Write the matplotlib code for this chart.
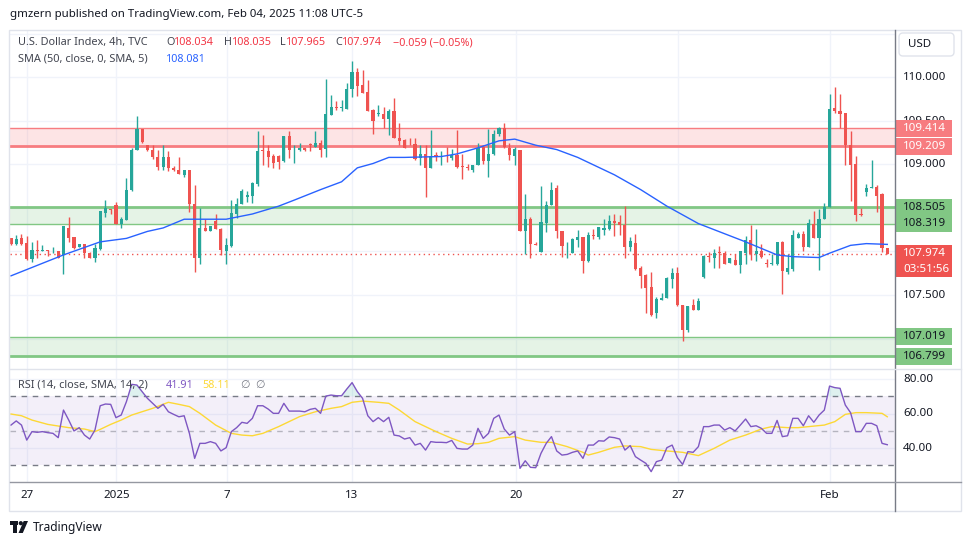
import matplotlib
matplotlib.use("Agg")
import matplotlib.pyplot as plt
import matplotlib.patches as mpatches
from matplotlib.transforms import blended_transform_factory
import numpy as np

W, H = 970, 545
plt.rcParams['font.family'] = ['Noto Sans', 'DejaVu Sans']

# 4h candles, U.S. Dollar Index (TVC), late Dec 2024 -> Feb 04 2025
opens = [108.15, 108.08, 108.15, 108.10, 107.91, 108.02, 108.01, 108.02, 108.00, 108.01,
         107.96, 108.27, 108.17, 108.05, 108.09, 107.98, 107.93, 108.03, 108.44, 108.49,
         108.53, 108.32, 108.36, 108.70, 109.17, 109.41, 109.22, 109.17, 109.08, 108.97,
         109.09, 108.96, 108.93, 108.88, 108.93, 108.55, 107.93, 108.27, 108.24, 108.35,
         108.26, 108.01, 108.06, 108.43, 108.55, 108.62, 108.64, 108.78, 109.16, 109.15,
         109.10, 109.10, 109.04, 109.32, 109.16, 109.17, 109.19, 109.23, 109.20, 109.24,
         109.18, 109.57, 109.66, 109.65, 109.64, 109.86, 110.06, 109.91, 109.83, 109.63,
         109.58, 109.58, 109.52, 109.61, 109.30, 109.28, 109.25, 109.23, 109.07, 109.12,
         108.96, 109.11, 109.08, 109.09, 109.07, 109.11, 108.98, 108.97, 108.93, 108.99,
         109.20, 109.04, 109.12, 109.35, 109.42, 109.19, 109.10, 109.17, 108.24, 108.37,
         108.09, 107.99, 108.33, 108.53, 108.73, 108.24, 108.08, 107.98, 108.13, 108.17,
         107.89, 108.19, 108.17, 108.25, 108.26, 108.35, 108.34, 108.30, 108.05, 108.10,
         107.81, 107.73, 107.59, 107.29, 107.44, 107.47, 107.68, 107.75, 107.39, 107.10,
         107.39, 107.33, 107.71, 107.95, 107.93, 107.99, 107.98, 107.87, 107.90, 107.84,
         107.98, 108.13, 107.97, 108.00, 107.865, 107.857, 107.86, 108.11, 107.76, 107.80,
         108.16, 108.20, 108.05, 108.32, 108.16, 108.37, 108.51, 109.65, 109.61, 109.59,
         109.22, 109.00, 108.43, 108.68, 108.73, 108.74, 108.66, 108.034]
highs = [108.16, 108.19, 108.20, 108.18, 108.11, 108.13, 108.07, 108.02, 108.05, 108.01,
         108.29, 108.39, 108.17, 108.09, 108.09, 107.99, 108.09, 108.47, 108.59, 108.49,
         108.57, 108.39, 108.84, 109.19, 109.55, 109.41, 109.22, 109.22, 109.17, 109.22,
         109.15, 108.98, 109.08, 108.93, 108.94, 108.76, 108.50, 108.37, 108.29, 108.43,
         108.27, 108.16, 108.59, 108.61, 108.72, 108.69, 108.80, 109.38, 109.34, 109.22,
         109.12, 109.11, 109.33, 109.38, 109.22, 109.24, 109.19, 109.25, 109.38, 109.28,
         109.98, 109.80, 109.73, 109.74, 109.93, 110.19, 110.11, 110.08, 109.97, 109.64,
         109.68, 109.66, 109.64, 109.76, 109.47, 109.29, 109.30, 109.30, 109.22, 109.22,
         109.40, 109.14, 109.15, 109.20, 109.18, 109.40, 109.12, 109.00, 108.99, 109.25,
         109.22, 109.41, 109.40, 109.43, 109.47, 109.24, 109.20, 109.17, 108.66, 108.39,
         108.11, 108.75, 108.58, 108.80, 108.76, 108.24, 108.11, 108.16, 108.25, 108.17,
         108.22, 108.26, 108.28, 108.37, 108.42, 108.43, 108.42, 108.52, 108.17, 108.20,
         107.83, 107.74, 107.76, 107.48, 107.52, 107.71, 107.81, 107.82, 107.39, 107.37,
         107.45, 107.46, 107.96, 107.99, 108.03, 108.06, 108.00, 107.92, 107.97, 108.01,
         108.18, 108.30, 108.26, 108.09, 107.91, 107.97, 108.11, 108.12, 107.97, 108.25,
         108.22, 108.24, 108.37, 108.46, 108.49, 108.56, 109.81, 109.89, 109.81, 109.59,
         109.38, 109.10, 108.50, 108.77, 109.05, 108.76, 108.67, 108.035]
lows = [108.07, 108.07, 108.07, 107.90, 107.88, 107.93, 108.00, 107.95, 107.98, 107.92,
        107.74, 108.11, 108.03, 108.05, 107.93, 107.92, 107.88, 108.02, 108.40, 108.43,
        108.32, 108.27, 108.36, 108.69, 109.17, 109.25, 109.15, 109.06, 108.94, 108.94,
        108.92, 108.92, 108.89, 108.85, 108.45, 107.76, 107.86, 108.23, 108.24, 108.26,
        107.96, 107.86, 108.05, 108.38, 108.55, 108.57, 108.56, 108.75, 108.99, 108.97,
        108.96, 108.95, 109.03, 109.07, 109.01, 109.15, 109.15, 109.15, 109.20, 109.09,
        109.09, 109.57, 109.62, 109.61, 109.64, 109.77, 109.79, 109.82, 109.61, 109.35,
        109.55, 109.42, 109.34, 109.30, 109.22, 109.19, 109.22, 109.05, 108.99, 108.62,
        108.96, 109.04, 108.99, 109.03, 109.05, 108.96, 108.83, 108.94, 108.91, 108.99,
        109.00, 108.85, 109.11, 109.32, 109.19, 109.05, 108.99, 108.24, 107.97, 107.93,
        108.07, 107.99, 108.22, 108.53, 108.15, 107.94, 107.93, 107.98, 108.05, 107.75,
        107.88, 108.14, 108.14, 108.19, 108.25, 108.18, 108.19, 107.93, 108.01, 107.79,
        107.58, 107.29, 107.26, 107.23, 107.44, 107.47, 107.58, 107.37, 106.97, 107.07,
        107.33, 107.33, 107.70, 107.88, 107.81, 107.81, 107.86, 107.87, 107.84, 107.75,
        107.86, 107.90, 107.89, 107.93, 107.82, 107.85, 107.85, 107.51, 107.74, 107.77,
        108.16, 108.00, 108.05, 108.15, 107.79, 108.37, 108.51, 109.59, 109.42, 108.99,
        108.58, 108.35, 108.41, 108.64, 108.73, 108.45, 107.99, 107.965]
closes = [108.08, 108.14, 108.08, 107.91, 108.02, 108.00, 108.02, 108.00, 108.01, 107.93,
          108.29, 108.16, 108.04, 108.09, 107.98, 107.93, 108.04, 108.46, 108.50, 108.48,
          108.32, 108.37, 108.71, 109.17, 109.41, 109.26, 109.17, 109.08, 108.97, 109.09,
          108.96, 108.93, 108.89, 108.93, 108.55, 107.93, 108.27, 108.24, 108.29, 108.26,
          108.02, 108.07, 108.44, 108.55, 108.69, 108.65, 108.79, 109.15, 109.15, 109.09,
          109.01, 109.03, 109.32, 109.17, 109.17, 109.19, 109.17, 109.22, 109.24, 109.17,
          109.58, 109.66, 109.65, 109.66, 109.87, 110.06, 109.90, 109.82, 109.61, 109.50,
          109.59, 109.52, 109.61, 109.30, 109.27, 109.19, 109.24, 109.06, 109.12, 108.96,
          109.10, 109.08, 109.10, 109.08, 109.11, 108.97, 108.97, 108.96, 108.99, 109.19,
          109.04, 109.12, 109.35, 109.42, 109.20, 109.11, 109.18, 108.24, 108.37, 108.08,
          108.07, 108.34, 108.53, 108.71, 108.23, 108.06, 108.09, 108.14, 108.17, 107.89,
          108.19, 108.18, 108.28, 108.27, 108.35, 108.33, 108.30, 108.05, 108.12, 107.80,
          107.72, 107.58, 107.27, 107.45, 107.47, 107.70, 107.75, 107.39, 107.10, 107.37,
          107.33, 107.43, 107.95, 107.94, 107.98, 107.98, 107.86, 107.92, 107.84, 108.00,
          108.13, 107.97, 108.01, 107.94, 107.857, 107.865, 108.11, 107.77, 107.81, 108.19,
          108.20, 108.05, 108.33, 108.16, 108.37, 108.51, 109.64, 109.61, 109.58, 109.22,
          108.99, 108.42, 108.42, 108.73, 108.74, 108.64, 108.04, 107.974]

# SMA(50) at a set of bars
sma_bar = [0, 10, 17, 22, 26, 29, 33, 37, 41, 46, 51, 54, 59, 63, 66, 69, 72, 75, 82, 85,
           89, 93, 96, 100, 104, 108, 115, 120, 125, 131, 137, 140, 146, 149, 154, 156, 160, 163, 167]
sma_val = [107.72, 107.96, 108.11, 108.15, 108.23, 108.27, 108.37, 108.37, 108.37, 108.43,
           108.52, 108.59, 108.71, 108.80, 108.96, 109.01, 109.08, 109.08, 109.09, 109.12,
           109.19, 109.27, 109.29, 109.22, 109.17, 109.08, 108.88, 108.71, 108.52, 108.32,
           108.18, 108.11, 107.96, 107.94, 107.93, 107.98, 108.07, 108.09, 108.081]

rsi = [53.3, 55.7, 53.3, 44.6, 49.5, 49.1, 49.5, 48.9, 48.5, 46.0,
       62.0, 56.2, 49.9, 51.8, 47.5, 45.2, 50.4, 64.5, 65.5, 65.3,
       57.6, 59.1, 66.9, 76.9, 76.5, 72.7, 68.8, 65.9, 63.0, 65.3,
       61.0, 59.5, 58.1, 58.7, 48.5, 34.0, 42.7, 42.7, 43.7, 42.7,
       38.3, 40.2, 49.5, 51.8, 54.9, 54.3, 57.2, 64.5, 64.5, 62.6,
       60.1, 60.1, 65.9, 61.4, 61.4, 61.4, 61.0, 62.4, 63.0, 60.1,
       70.1, 70.7, 70.3, 70.3, 74.2, 77.9, 72.7, 68.8, 58.7, 55.3,
       57.6, 55.3, 57.8, 47.5, 47.0, 45.2, 46.0, 41.7, 42.7, 38.8,
       43.7, 43.3, 43.3, 43.1, 44.4, 39.8, 39.4, 39.4, 41.7, 51.4,
       45.6, 48.5, 57.2, 59.1, 51.0, 47.5, 49.5, 28.2, 32.6, 28.8,
       28.6, 36.9, 42.7, 46.6, 38.3, 35.9, 36.3, 37.5, 38.3, 34.0,
       41.7, 41.7, 44.2, 44.0, 46.4, 46.0, 45.2, 38.8, 41.4, 35.0,
       33.0, 31.1, 26.3, 32.1, 33.0, 40.2, 41.7, 34.4, 30.5, 37.9,
       37.5, 40.8, 52.4, 52.4, 53.3, 53.3, 50.4, 51.8, 49.9, 53.3,
       56.8, 52.4, 52.9, 51.4, 48.5, 48.5, 56.0, 46.6, 47.1, 57.2,
       57.2, 52.9, 58.7, 54.9, 59.1, 62.0, 75.9, 75.0, 74.6, 64.9,
       60.5, 49.5, 49.5, 54.3, 54.3, 52.9, 42.7, 41.91]

ma_bar = [0, 2, 4, 7, 11, 14, 16, 17, 19, 21, 23, 27, 30, 32, 34, 36, 39, 42, 44, 46,
          48, 51, 55, 58, 61, 63, 65, 67, 70, 72, 74, 77, 81, 84, 87, 89, 91, 93, 96, 98,
          101, 103, 106, 109, 110, 112, 115, 117, 120, 122, 125, 128, 131, 134, 137, 140,
          143, 145, 148, 150, 153, 155, 157, 159, 161, 163, 166, 167]
ma_val = [59.7, 58.7, 56.2, 53.7, 51.8, 51.0, 49.5, 50.8, 53.7, 56.2, 59.1, 63.0, 66.5,
          65.3, 64.0, 60.1, 53.3, 48.5, 47.5, 47.1, 48.5, 52.4, 58.2, 61.0, 63.0, 64.0,
          66.5, 67.2, 66.5, 65.9, 62.0, 55.3, 49.5, 45.6, 42.3, 42.5, 43.3, 45.6, 46.6,
          44.6, 43.3, 43.3, 40.8, 37.5, 35.9, 37.5, 40.4, 41.2, 40.8, 39.2, 38.3, 37.5,
          35.6, 39.8, 44.6, 47.5, 51.0, 52.4, 51.8, 51.8, 52.7, 53.3, 55.3, 59.5, 60.5,
          60.5, 60.1, 58.11]

date_labels = ['27', '2025', '7', '13', '20', '27', 'Feb']
date_bar = [3.05, 20.1, 41.1, 65.0, 96.2, 127.1, 156.1]

price_grid = [110.5, 110.0, 109.5, 109.0, 108.5, 108.0, 107.5, 107.0]
price_labels = [110.0, 109.5, 109.0, 107.5]
rsi_labels = [80, 60, 40]
resist_zone = (109.209, 109.414)
support_zone = (108.319, 108.505)
support_zone2 = (106.799, 107.019)
last_price = 107.974

GREEN, RED = '#26a69a', '#ef5350'
GRID = '#f0f3fa'
TXT = '#131722'
GRAY = '#434651'
LRED = '#f23645'

fig = plt.figure(figsize=(W / 100, H / 100), dpi=100)
renderer = fig.canvas.get_renderer()


def box(x, y, w, h):
    return [x / W, 1 - (y + h) / H, w / W, h / H]


def fit_size(s, target, base=10.0, **kw):
    t = fig.text(0, 0, s, fontsize=base, **kw)
    w = t.get_window_extent(renderer).width
    t.remove()
    return base * target / w


ax = fig.add_axes(box(10, 30, 885, 339))
ax_r = fig.add_axes(box(10, 369, 885, 113))
front = fig.add_axes([0, 0, 1, 1], zorder=10)
front.set_xlim(0, W)
front.set_ylim(H, 0)
front.axis('off')
front.patch.set_alpha(0)

n = len(closes)
x = np.arange(n)
o, hi, lo, c = map(np.array, (opens, highs, lows, closes))

xlim = (-0.19, 168.47)
ylim = (106.65, 110.543)
ppx = (ylim[1] - ylim[0]) / 339.0
for a in (ax, ax_r):
    a.set_xlim(*xlim)
    a.set_xticks([])
    a.set_yticks([])
    for s in a.spines.values():
        s.set_visible(False)
    for d in date_bar:
        a.axvline(d, color=GRID, lw=1, zorder=0)
ax.set_ylim(*ylim)

for p in price_grid:
    ax.axhline(p, color=GRID, lw=1, zorder=0)

# zones
ax.axhspan(*resist_zone, color='#f77c80', alpha=0.2, lw=0, zorder=1)
ax.axhline(resist_zone[1], color='#f77c80', lw=1, zorder=2)
ax.axhline(resist_zone[0], color='#f77c80', lw=2, zorder=2)
ax.axhspan(*support_zone, color='#81c784', alpha=0.2, lw=0, zorder=1)
ax.axhline(support_zone[1], color='#81c784', lw=2, zorder=2)
ax.axhline(support_zone[0], color='#81c784', lw=1, zorder=2)
ax.axhspan(*support_zone2, color='#81c784', alpha=0.2, lw=0, zorder=1)
ax.axhline(support_zone2[1], color='#81c784', lw=1, zorder=2)
ax.axhline(support_zone2[0], color='#81c784', lw=2, zorder=2)

ax.axhline(last_price, color=RED, lw=1, ls=(0, (1, 2.5)), zorder=2.5)

# candles
cols = np.where(c >= o, GREEN, RED)
ax.vlines(x, lo, hi, colors=cols, lw=1, zorder=3)
ax.bar(x, np.maximum(np.abs(c - o), 0.007), bottom=np.minimum(o, c), width=0.6,
       color=cols, lw=0, zorder=4)
ax.plot(sma_bar, sma_val, color='#2962ff', lw=1, zorder=5)

# right price scale
tr = blended_transform_factory(ax.transAxes, ax.transData)
AX_FS = 8.3


def axx(px):
    return (px - 10) / 885.0


for p in price_labels:
    ax.text(axx(903), p - 0.5 * ppx, f'{p:.3f}', transform=tr, ha='left', va='center',
            fontsize=AX_FS, color=TXT, clip_on=False, zorder=5)


def price_box(p, txt, bg, fg, up=8.5, down=8.5, sub=None):
    ax.add_patch(mpatches.Rectangle((axx(895), p - down * ppx), axx(952) - axx(895),
                                    (up + down) * ppx, transform=tr, facecolor=bg,
                                    edgecolor='none', clip_on=False, zorder=6))
    ax.text(axx(903), p, txt, transform=tr, ha='left', va='center', fontsize=AX_FS,
            color=fg, clip_on=False, zorder=7)
    if sub:
        ax.text(axx(903), p - 15.5 * ppx, sub, transform=tr, ha='left', va='center',
                fontsize=AX_FS, color=fg, clip_on=False, zorder=7)


price_box(resist_zone[1], f'{resist_zone[1]:.3f}', '#f77c80', 'white')
price_box(resist_zone[0], f'{resist_zone[0]:.3f}', '#f77c80', 'white')
price_box(support_zone[1], f'{support_zone[1]:.3f}', '#81c784', TXT)
price_box(support_zone[0], f'{support_zone[0]:.3f}', '#81c784', TXT)
price_box(last_price, f'{last_price:.3f}', RED, 'white', up=8.5, down=23, sub='03:51:56')
price_box(support_zone2[1], f'{support_zone2[1]:.3f}', '#81c784', TXT)
price_box(support_zone2[0], f'{support_zone2[0]:.3f}', '#81c784', TXT)

# RSI panel
ax_r.set_ylim(20.3, 85.8)
for v in rsi_labels:
    ax_r.axhline(v, color=GRID, lw=1, zorder=0)
ax_r.axhspan(30, 70, color='#7e57c2', alpha=0.09, lw=0, zorder=1)
ax_r.axhline(70, color='#787b86', lw=1, ls=(0, (4, 4)), zorder=2)
ax_r.axhline(50, color='#787b86', lw=1, ls=(0, (4, 4)), alpha=0.5, zorder=2)
ax_r.axhline(30, color='#787b86', lw=1, ls=(0, (4, 4)), zorder=2)
r = np.array(rsi)
ax_r.fill_between(x, 70, r, where=r > 70, interpolate=True, color=GREEN, alpha=0.15,
                  lw=0, zorder=2)
ax_r.plot(ma_bar, ma_val, color='#fdd835', lw=1, zorder=3)
ax_r.plot(x, r, color='#7e57c2', lw=1, zorder=4)
trr = blended_transform_factory(ax_r.transAxes, ax_r.transData)
for v in rsi_labels:
    ax_r.text(axx(903), v, f'{v:.2f}', transform=trr, ha='left', va='center',
              fontsize=AX_FS, color=TXT, clip_on=False)

# time scale
trt = blended_transform_factory(ax_r.transData, ax_r.transAxes)
for d, lab in zip(date_bar, date_labels):
    ax_r.text(d, -14 / 113.0, lab, transform=trt, ha='center', va='center',
              fontsize=AX_FS, color=TXT, clip_on=False,
              fontweight='bold' if lab == '2025' else 'normal')

# frame lines
front.add_patch(mpatches.Rectangle((9, 29.5), 952, 481, fill=False, edgecolor='#e0e3eb', lw=1))
front.plot([895, 895], [29.5, 510.5], color='#787b86', lw=1)
front.plot([10, 961], [369, 369], color='#e0e3eb', lw=1)
front.plot([10, 961], [482, 482], color='#9598a1', lw=1)
front.add_patch(mpatches.FancyBboxPatch((899, 33), 55, 23, boxstyle='round,pad=0,rounding_size=4',
                                        facecolor='white', edgecolor='#e0e3eb', lw=1))
front.text(908, 44.5, 'USD', ha='left', va='center', fontsize=AX_FS, color=TXT)


def put(px, py, s, col, size, **kw):
    front.text(px, py, s, ha='left', va='center', fontsize=size, color=col, **kw)


def put_seq(px, py, parts, size):
    # lay out coloured pieces one after another on a line
    for s, col in parts:
        t = front.text(px, py, s, ha='left', va='center', fontsize=size, color=col)
        bb = t.get_window_extent(renderer)
        px += bb.width * W / fig.bbox.width


title = 'gmzern published on TradingView.com, Feb 04, 2025 11:08 UTC-5'
put(10.5, 15, title, TXT, fit_size(title, 351))

LG = fit_size('U.S. Dollar Index, 4h, TVC', 130)
NUM = fit_size('108.034', 40)
put(18, 42.7, 'U.S. Dollar Index, 4h, TVC', GRAY, LG)
put_seq(166, 42.7, [('O', GRAY), ('108.034', LRED)], NUM)
put_seq(224, 42.7, [('H', GRAY), ('108.035', LRED)], NUM)
put_seq(280, 42.7, [('L', GRAY), ('107.965', LRED)], NUM)
put_seq(335, 42.7, [('C', GRAY), ('107.974', LRED)], NUM)
put(393.3, 42.7, '\u22120.059 (\u22120.05%)', LRED, NUM)
put(18, 59.3, 'SMA (50, close, 0, SMA, 5)', GRAY, LG)
put(166, 59.3, '108.081', '#2962ff', NUM)
put(18, 385, 'RSI (14, close, SMA, 14, 2)', GRAY, LG)
put(165.7, 385, '41.91', '#7e57c2', NUM)
put(202.7, 385, '58.11', '#fdd835', NUM)
put(240, 385, '\u2205', '#787b86', NUM, family=['DejaVu Sans'])
put(255, 385, '\u2205', '#787b86', NUM, family=['DejaVu Sans'])

# footer logo
front.add_patch(mpatches.Rectangle((10, 521), 8, 4, color=TXT, lw=0))
front.add_patch(mpatches.Rectangle((13.5, 521), 4, 12, color=TXT, lw=0))
front.add_patch(mpatches.Circle((20.8, 523.2), 2.1, color=TXT, lw=0))
front.add_patch(mpatches.Polygon([(18.5, 533), (22.8, 533), (28, 521), (23.7, 521)],
                                 color=TXT, lw=0))
put(32.5, 527, 'TradingView', TXT, fit_size('TradingView', 70))

fig.savefig('out.png', dpi=100, facecolor='white')
